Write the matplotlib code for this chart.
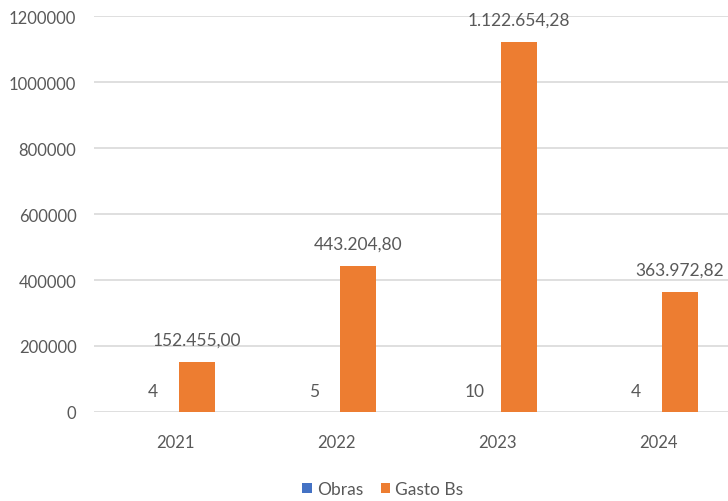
import numpy as np
import matplotlib
matplotlib.use("Agg")
import matplotlib.pyplot as plt

years = ["2021", "2022", "2023", "2024"]
obras = [4, 5, 10, 4]
gasto = [152455.00, 443204.80, 1122654.28, 363972.82]
gasto_labels = ["152.455,00", "443.204,80", "1.122.654,28", "363.972,82"]
yticks = [0, 200000, 400000, 600000, 800000, 1000000, 1200000]

plt.rcParams['font.family'] = ['Lato', 'DejaVu Sans']
txt_color = "#595959"
fs = 12

fig = plt.figure(figsize=(7.28, 5.02), dpi=100)
ax = fig.add_axes([0.1298, 0.1773, 0.8846, 0.7888])

x = np.arange(len(years))
w = 0.224
off = 0.137
b1 = ax.bar(x - off, obras, w, color="#4472C4", label="Obras", zorder=3)
b2 = ax.bar(x + off, gasto, w, color="#ED7D31", label="Gasto Bs", zorder=3)

for xi, v in zip(x, obras):
    ax.annotate(str(v), (xi - off, v), xytext=(0, 9), textcoords="offset points",
                ha="center", va="bottom", fontsize=fs + 0.5, color=txt_color)
for xi, v, lab in zip(x, gasto, gasto_labels):
    ax.annotate(lab, (xi + off, v), xytext=(0, 10), textcoords="offset points",
                ha="center", va="bottom", fontsize=fs + 0.5, color=txt_color)

ax.set_xlim(-0.5, len(years) - 0.5)
ax.set_ylim(0, 1200000)
ax.set_yticks(yticks)
ax.set_yticklabels([str(t) for t in yticks])
ax.set_xticks(x)
ax.set_xticklabels(years)
ax.tick_params(axis="both", length=0, labelsize=fs, colors=txt_color)
ax.tick_params(axis="y", pad=13)
ax.tick_params(axis="x", pad=16)
ax.grid(axis="y", color="#D9D9D9", linewidth=1.2, zorder=0)
for s in ax.spines.values():
    s.set_visible(False)

fig.legend(handles=[b1, b2], loc="center", bbox_to_anchor=(0.526, 0.024), ncol=2,
           frameon=False, fontsize=fs + 0.5, handlelength=0.55, handleheight=0.55,
           handletextpad=0.3, columnspacing=1.0, labelcolor=txt_color)

fig.savefig("out.png", dpi=100)
